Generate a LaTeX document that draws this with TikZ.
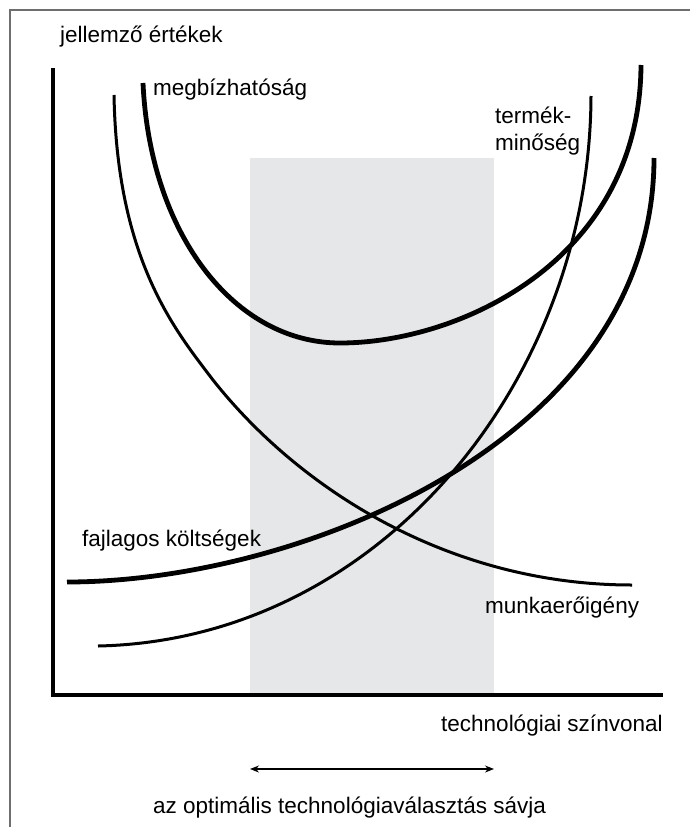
\documentclass[tikz,border=0pt]{standalone}
\usepackage{fontspec}
\setmainfont{Liberation Sans}
\usetikzlibrary{arrows.meta}
\definecolor{bandgray}{HTML}{E6E7E8}
\definecolor{framegray}{HTML}{6E6E6E}
\tikzset{
	lbl/.style={anchor=base west, inner sep=0pt, font=\fontsize{22.5}{27}\selectfont},
	boldcurve/.style={line width=4.8pt},
	thincurve/.style={line width=3pt}
}
\begin{document}
\begin{tikzpicture}[x=1pt,y=-1pt]
	\useasboundingbox (0,0) rectangle (690,827);
	\fill[bandgray] (250,158) rectangle (494,695);
	\draw[framegray, line width=1.8pt] (10,827) -- (10,10) -- (690,10);
	\coordinate (ytop) at (53,68);
	\coordinate (origin) at (53,695);
	\coordinate (xend) at (663,695);
	\draw[line width=3.2pt] (ytop) -- (origin) -- (xend);
	\draw[boldcurve] (143,83) .. controls (150,235) and (235,343) .. (340,343)
		.. controls (460,343) and (640,260) .. (641,65);
	\draw[thincurve] (114,95) .. controls (117,260) and (175,330) .. (213,380)
		.. controls (300,490) and (450,585) .. (632,585);
	\draw[boldcurve] (67,582) .. controls (300,582) and (654,440) .. (654,158);
	\draw[thincurve] (98,646) .. controls (380,640) and (590,380) .. (591,96);
	\node[lbl] (jellemzo) at (60,42) {jellemző értékek};
	\node[lbl] (megbiz) at (153,95) {megbízhatóság};
	\node[lbl] (termek) at (495,123) {termék-};
	\node[lbl] (minoseg) at (495,150) {minőség};
	\node[lbl] (koltseg) at (82,546) {fajlagos költségek};
	\node[lbl] (munka) at (485,613) {munkaerőigény};
	\node[lbl] (szinvonal) at (441,731) {technológiai színvonal};
	\coordinate (sav1) at (250,769);
	\coordinate (sav2) at (494,769);
	\draw[{Stealth[length=9pt,width=7pt]}-{Stealth[length=9pt,width=7pt]}, line width=1.2pt] (sav1) -- (sav2);
	\node[lbl] (savja) at (153,813) {az optimális technológiaválasztás sávja};
\end{tikzpicture}
\end{document}
